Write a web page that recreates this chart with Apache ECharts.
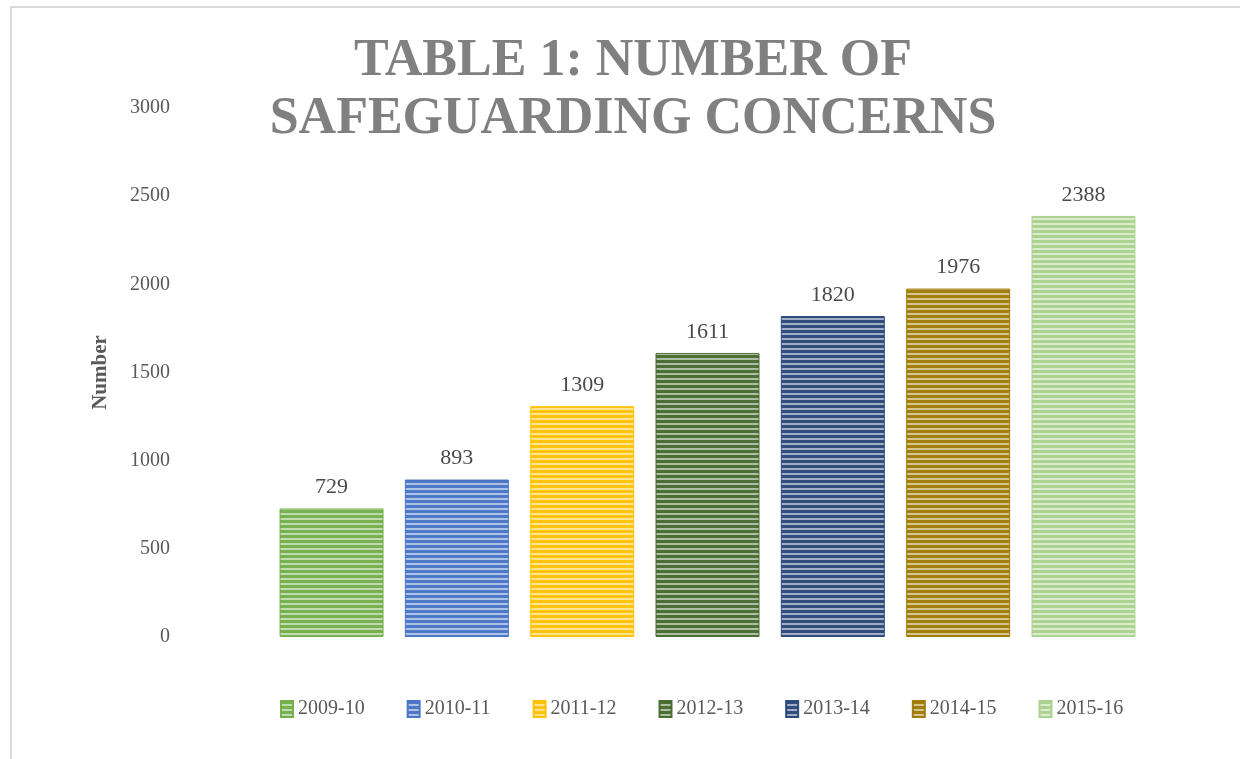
<!DOCTYPE html>
<html lang="en">
<head>
    <meta charset="UTF-8">
    <title>Number of safeguarding concerns</title>
    <script src="https://cdn.jsdelivr.net/npm/echarts@6/dist/echarts.min.js"></script>
    <style>
        body { margin: 0; background: #fff; }
        #main { width: 1240px; height: 759px; }
    </style>
</head>
<body>
<div id="main"></div>
<script>
    // data
    var years = ['2009-10', '2010-11', '2011-12', '2012-13', '2013-14', '2014-15', '2015-16'];
    var counts = [729, 893, 1309, 1611, 1820, 1976, 2388];
    var colors = ['#70ad47', '#4472c4', '#ffc000', '#43682b', '#264478', '#9e7800', '#a9d18e'];
    var yTicks = [0, 500, 1000, 1500, 2000, 2500, 3000];

    // horizontal stripes: colour line, then a pale line
    function stripes(col) {
        var c = document.createElement('canvas');
        c.width = 4;
        c.height = 5;
        var ctx = c.getContext('2d');
        ctx.fillStyle = col;
        ctx.fillRect(0, 0, 4, 5);
        ctx.fillStyle = 'rgba(255,255,255,0.55)';
        ctx.fillRect(0, 3, 4, 2);
        return { image: c, repeat: 'repeat' };
    }

    var font = '"Liberation Serif", "DejaVu Serif", serif';

    var series = [];
    for (var i = 0; i < years.length; i++) {
        series.push({
            name: years[i],
            type: 'bar',
            data: [counts[i]],
            barWidth: 104,
            barGap: '20.5%',
            itemStyle: {
                color: stripes(colors[i]),
                borderColor: colors[i],
                borderWidth: 1,
                opacity: 0.95
            },
            label: {
                show: true,
                position: 'top',
                distance: 10,
                fontFamily: font,
                fontSize: 22,
                color: '#404040'
            }
        });
    }

    var myChart = echarts.init(document.getElementById('main'));
    var option = {
        animation: false,
        title: {
            text: 'TABLE 1: NUMBER OF\nSAFEGUARDING CONCERNS',
            left: 628,
            textAlign: 'center',
            top: 28,
            textStyle: {
                fontFamily: font,
                fontWeight: 'bold',
                fontSize: 52,
                lineHeight: 58,
                color: '#808080'
            }
        },
        graphic: [{
            type: 'rect',
            shape: { x: 11, y: 7, width: 1300, height: 800 },
            style: { fill: 'none', stroke: '#d9d9d9', lineWidth: 2 },
            silent: true
        }],
        legend: {
            data: years,
            left: 275,
            top: 694,
            icon: 'rect',
            itemWidth: 12,
            itemHeight: 16,
            itemGap: 42,
            textStyle: {
                fontFamily: font,
                fontSize: 20,
                color: '#595959'
            }
        },
        grid: { left: 215, right: 40, top: 108, bottom: 122 },
        xAxis: {
            type: 'category',
            data: [''],
            axisLine: { show: false },
            axisTick: { show: false },
            axisLabel: { show: false }
        },
        yAxis: {
            type: 'value',
            min: yTicks[0],
            max: yTicks[yTicks.length - 1],
            interval: 500,
            name: 'Number',
            nameLocation: 'middle',
            nameGap: 104,
            nameTextStyle: {
                fontFamily: font,
                fontWeight: 'bold',
                fontSize: 21,
                color: '#595959'
            },
            splitLine: { show: false },
            axisLine: { show: false },
            axisTick: { show: false },
            axisLabel: {
                margin: 45,
                fontFamily: font,
                fontSize: 20,
                color: '#595959',
                formatter: function (v) { return String(v); }
            }
        },
        series: series
    };
    myChart.setOption(option);
</script>
</body>
</html>
